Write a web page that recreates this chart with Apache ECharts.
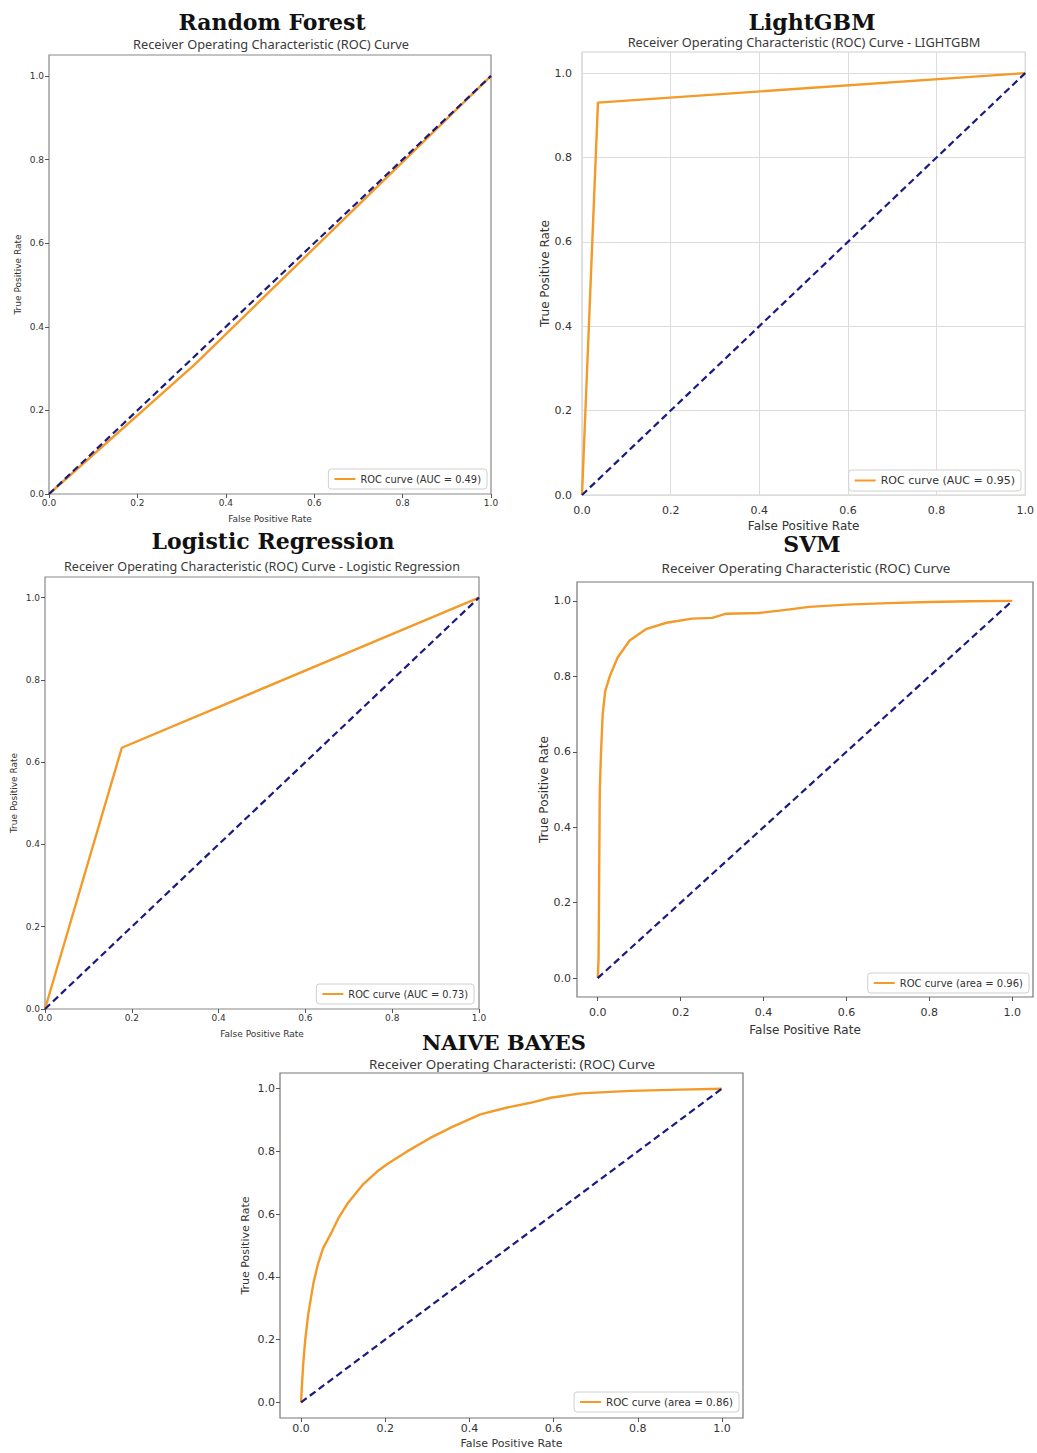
<!DOCTYPE html>
<html>
<head>
<meta charset="utf-8">
<script src="https://cdn.jsdelivr.net/npm/echarts@6/dist/echarts.min.js"></script>
<style>
html,body{margin:0;padding:0;background:#fff;}
#chart{width:1037px;height:1453px;}
</style>
</head>
<body>
<div id="chart"></div>
<script>
// ---------- DATA ----------
const TICKS = [0, 0.2, 0.4, 0.6, 0.8, 1.0];
const CHANCE_FPR = [0, 1];
const CHANCE_TPR = [0, 1];

const MODEL_NAMES = ['Random Forest', 'LightGBM', 'Logistic Regression', 'SVM', 'NAIVE BAYES'];
const SUBTITLES = [
  'Receiver Operating Characteristic (ROC) Curve',
  'Receiver Operating Characteristic (ROC) Curve - LIGHTGBM',
  'Receiver Operating Characteristic (ROC) Curve - Logistic Regression',
  'Receiver Operating Characteristic (ROC) Curve',
  'Receiver Operating Characteristi: (ROC) Curve'
];
const LEGEND_LABELS = [
  'ROC curve (AUC = 0.49)',
  'ROC curve (AUC = 0.95)',
  'ROC curve (AUC = 0.73)',
  'ROC curve (area = 0.96)',
  'ROC curve (area = 0.86)'
];
const X_TITLE = 'False Positive Rate';
const Y_TITLE = 'True Positive Rate';

const RF_FPR = [0, 0.33, 1];
const RF_TPR = [0, 0.31, 1];

const LGBM_FPR = [0, 0.036, 1];
const LGBM_TPR = [0, 0.93, 1];

const LR_FPR = [0, 0.177, 1];
const LR_TPR = [0, 0.635, 1];

const SVM_FPR = [0, 0.002, 0.003, 0.004, 0.005, 0.008, 0.012, 0.018, 0.029, 0.048, 0.077, 0.118, 0.166, 0.228, 0.276, 0.31, 0.39, 0.454, 0.51, 0.6, 0.7, 0.8, 0.9, 1];
const SVM_TPR = [0, 0.05, 0.2, 0.35, 0.5, 0.6, 0.7, 0.76, 0.8, 0.85, 0.895, 0.926, 0.942, 0.953, 0.955, 0.966, 0.968, 0.976, 0.984, 0.99, 0.994, 0.997, 0.999, 1];

const NB_FPR = [0, 0.002, 0.005, 0.01, 0.017, 0.029, 0.04, 0.052, 0.074, 0.09, 0.11, 0.148, 0.18, 0.205, 0.252, 0.307, 0.362, 0.426, 0.49, 0.545, 0.593, 0.664, 0.783, 0.9, 1];
const NB_TPR = [0, 0.05, 0.12, 0.2, 0.28, 0.377, 0.44, 0.49, 0.546, 0.59, 0.633, 0.696, 0.735, 0.76, 0.80, 0.843, 0.88, 0.918, 0.94, 0.955, 0.971, 0.985, 0.993, 0.997, 1];

const CURVES_FPR = [RF_FPR, LGBM_FPR, LR_FPR, SVM_FPR, NB_FPR];
const CURVES_TPR = [RF_TPR, LGBM_TPR, LR_TPR, SVM_TPR, NB_TPR];

// ---------- LAYOUT / STYLE ----------
const W = 1037, H = 1453;
const PANELS = [
  {grid:{left:49, top:55, width:442, height:439}, x:[0,1], y:[0,1.05], title:[272,22,22], sub:[271,44,12.8], tick:9, nameSize:9,
   xName:20, yName:27, xlm:4, ylm:5, leg:{right:487, bottom:489, fs:9.9}, gridLines:false, ticksOn:true, border:'#888'},
  {grid:{left:582, top:52, width:444, height:443}, x:[0,1], y:[0,1.05], title:[812,22,22], sub:[804,42,12.8], tick:11, nameSize:12,
   xName:25, yName:30, xlm:10, ylm:10, leg:{right:1021, bottom:491, fs:11}, gridLines:true, ticksOn:false, border:'#cfcfcf'},
  {grid:{left:45, top:577, width:434, height:432}, x:[0,1], y:[0,1.05], title:[273,541,22], sub:[262,566,12.6], tick:9, nameSize:9,
   xName:20, yName:27, xlm:4, ylm:5, leg:{right:474, bottom:1004, fs:9.8}, gridLines:false, ticksOn:true, border:'#888'},
  {grid:{left:577, top:582, width:456, height:415}, x:[-0.05,1.05], y:[-0.05,1.05], title:[812,544,22], sub:[806,568,13.4], tick:11, nameSize:12,
   xName:27, yName:27, xlm:10, ylm:6, leg:{right:1029, bottom:993, fs:10}, gridLines:false, ticksOn:true, border:'#777'},
  {grid:{left:280, top:1073, width:463, height:345}, x:[-0.05,1.05], y:[-0.05,1.05], title:[504,1042,21], sub:[512,1064,13.4], tick:11, nameSize:11,
   xName:20, yName:29, xlm:5, ylm:5, leg:{right:739, bottom:1412, fs:10.3}, gridLines:false, ticksOn:true, border:'#777'}
];
const ORANGE = '#f39a28';
const NAVY = '#1a1a80';
const TXT = '#333';

const zip = (a, b) => a.map((v, i) => [v, b[i]]);

const grids = [], xAxes = [], yAxes = [], series = [], legends = [], graphics = [];

PANELS.forEach((p, i) => {
  grids.push(Object.assign({show:true, borderColor:p.border, borderWidth:1.2, backgroundColor:'#fff', containLabel:false}, p.grid));
  const axisCommon = (isX) => ({
    type:'value', gridIndex:i,
    position: isX ? 'bottom' : 'left',
    min: isX ? p.x[0] : p.y[0], max: isX ? p.x[1] : p.y[1],
    name: isX ? X_TITLE : Y_TITLE,
    nameLocation:'middle', nameGap: isX ? p.xName : p.yName,
    nameTextStyle:{fontFamily:'DejaVu Sans', fontSize:p.nameSize, color:TXT},
    axisLine:{show:false, onZero:false},
    axisTick:{show:p.ticksOn, length:4, inside:false, customValues:TICKS, lineStyle:{color:'#555'}},
    axisLabel:{show:true, customValues:TICKS, formatter:v => Number(v).toFixed(1), fontFamily:'DejaVu Sans', fontSize:p.tick, color:TXT, margin: isX ? p.xlm : p.ylm},
    splitLine:{show:p.gridLines, lineStyle:{color:'#dcdcdc', width:1}}
  });
  xAxes.push(axisCommon(true));
  yAxes.push(axisCommon(false));

  series.push({
    type:'line', name:LEGEND_LABELS[i], xAxisIndex:i, yAxisIndex:i,
    data: zip(CURVES_FPR[i], CURVES_TPR[i]),
    symbol:'none', smooth:false, lineStyle:{color:ORANGE, width:2.4}, itemStyle:{color:ORANGE},
    animation:false, z:2
  });
  series.push({
    type:'line', name:'chance'+i, xAxisIndex:i, yAxisIndex:i,
    data: zip(CHANCE_FPR, CHANCE_TPR),
    symbol:'none', lineStyle:{color:NAVY, width:2.2, type:[7,4]},
    animation:false, z:3
  });

  legends.push({
    data:[LEGEND_LABELS[i]],
    right: W - p.leg.right, bottom: H - p.leg.bottom,
    orient:'vertical', icon:'rect', itemWidth:21, itemHeight:2,
    padding:[5,6,5,6], borderColor:'#d0d0d0', borderWidth:1, borderRadius:3, backgroundColor:'#fff',
    textStyle:{fontFamily:'DejaVu Sans', fontSize:p.leg.fs, color:TXT},
    selectedMode:false
  });

  graphics.push({
    type:'text', x:p.title[0], y:p.title[1], z:100,
    style:{text:MODEL_NAMES[i], fontFamily:'DejaVu Serif', fontWeight:'bold', fontSize:p.title[2], fill:'#111', align:'center', verticalAlign:'middle'}
  });
  graphics.push({
    type:'text', x:p.sub[0], y:p.sub[1], z:100,
    style:{text:SUBTITLES[i], fontFamily:'Noto Sans', fontSize:p.sub[2], fill:'#3a3a3a', align:'center', verticalAlign:'middle'}
  });
});

const chart = echarts.init(document.getElementById('chart'), null, {renderer:'svg', width:W, height:H});
chart.setOption({
  animation:false,
  backgroundColor:'#fff',
  grid:grids, xAxis:xAxes, yAxis:yAxes, series:series, legend:legends,
  graphic:{elements:graphics}
});
</script>
</body>
</html>
